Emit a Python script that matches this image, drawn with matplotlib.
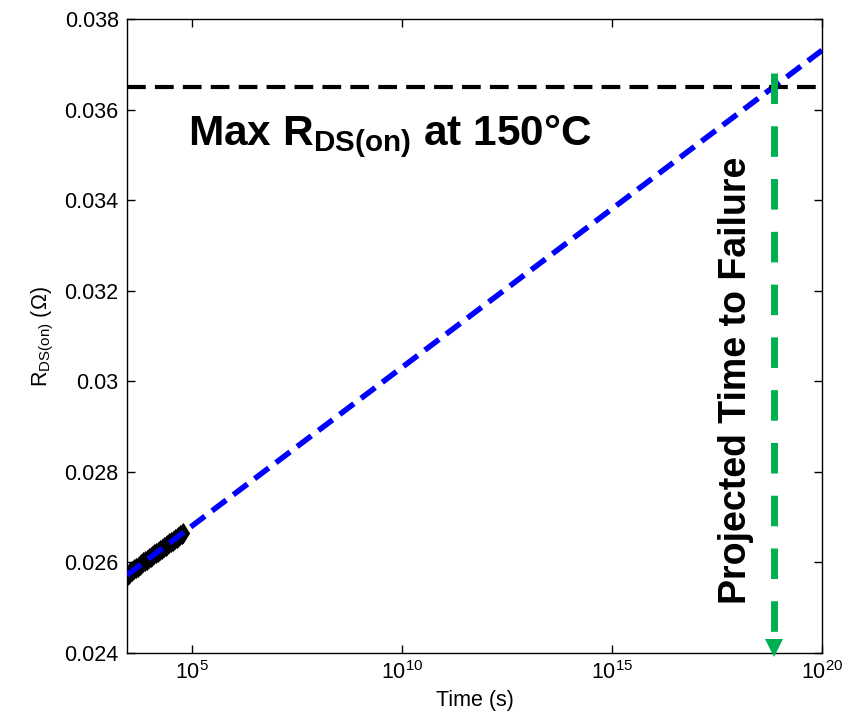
import numpy as np
import matplotlib.pyplot as plt
from matplotlib.ticker import FuncFormatter, FixedLocator, NullLocator

plt.rcParams['font.family'] = ['Liberation Sans', 'DejaVu Sans']
plt.rcParams['mathtext.fontset'] = 'custom'
plt.rcParams['mathtext.rm'] = 'Liberation Sans'
plt.rcParams['mathtext.it'] = 'Liberation Sans:italic'
plt.rcParams['mathtext.bf'] = 'Liberation Sans:bold'

# measured on-resistance during the stress test
meas_time = [2800, 3100, 3400, 3800, 4200, 4600, 5100, 5600, 6200, 6900,
             7600, 8400, 9300, 10300, 11400, 12600, 14000, 15500, 17200,
             19000, 21000, 23300, 25800, 28500, 31500, 35000, 38700, 42800,
             47300, 52300, 57000, 62000]
meas_rdson = [0.02571, 0.02575, 0.02578, 0.02581, 0.02585, 0.02587, 0.02591,
              0.02594, 0.02597, 0.02600, 0.02603, 0.02606, 0.02609, 0.02612,
              0.02615, 0.02618, 0.02621, 0.02624, 0.02627, 0.02630, 0.02633,
              0.02636, 0.02639, 0.02642, 0.02645, 0.02648, 0.02651, 0.02654,
              0.02657, 0.02660, 0.02662, 0.02665]

# log-linear fit extrapolated to failure
fit_time = [2800, 1e20]
fit_rdson = [0.02572, 0.03731]

max_rdson = 0.0365          # max R_DS(on) at 150 C
failure_time = 7.0e18       # projected time to failure
failure_top = 0.03681

fig = plt.figure(figsize=(8.49, 7.21), dpi=100)
ax = fig.add_axes([0.1496, 0.0943, 0.8186, 0.8793])

ax.plot(meas_time, meas_rdson, linestyle='none', marker='d', markersize=8,
        markerfacecolor='none', markeredgecolor='black', markeredgewidth=2,
        zorder=2)
ax.plot(fit_time, fit_rdson, color='#0000ff', linewidth=4,
        dashes=(3.2, 1.6), zorder=3)
ax.axhline(max_rdson, color='black', linewidth=3, dashes=(4.5, 2.2), zorder=3)

# projected failure marker
ax.plot([failure_time, failure_time], [failure_top, 0.02418],
        color='#00b050', linewidth=5, dashes=(4.4, 3.2), zorder=4)
ax.plot([failure_time], [0.02412], marker='v', markersize=13,
        color='#00b050', markeredgewidth=0, clip_on=False, zorder=5)

ax.text(10**4.9, 0.03522, r'Max R$_{\mathbf{DS(on)}}$ at 150°C',
        fontsize=30.5, fontweight='bold', ha='left', va='baseline')
ax.text(10**17.95, 0.03002, 'Projected Time to Failure', rotation=90,
        fontsize=27, fontweight='bold', ha='center', va='center')

ax.set_xscale('log')
ax.set_xlim(10**3.45, 1e20)
ax.set_ylim(0.024, 0.038)
ax.xaxis.set_major_locator(FixedLocator([1e5, 1e10, 1e15, 1e20]))
ax.xaxis.set_minor_locator(NullLocator())
ax.set_yticks(np.arange(0.024, 0.0381, 0.002))
ax.yaxis.set_major_formatter(FuncFormatter(lambda v, p: '{:g}'.format(round(v, 4))))

ax.tick_params(direction='in', length=6, width=1, top=True, right=True,
               labelsize=15.5, pad=6)
for s in ax.spines.values():
    s.set_linewidth(1)

ax.set_xlabel('Time (s)', fontsize=15.5, labelpad=4)
ax.set_ylabel(r'R$_{\mathrm{DS(on)}}$ ($\Omega$)', fontsize=15.5, labelpad=6)

fig.savefig('out.png', dpi=100)
